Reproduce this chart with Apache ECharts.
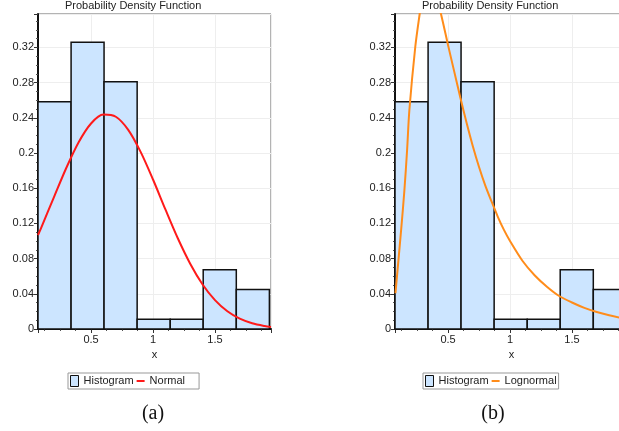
<!DOCTYPE html>
<html>
<head>
<meta charset="utf-8">
<script src="https://cdn.jsdelivr.net/npm/echarts@6/dist/echarts.min.js"></script>
<style>
html,body{margin:0;padding:0;background:#fff;}
#c{width:619px;height:431px;}
</style>
</head>
<body>
<div id="c"></div>
<script>
// ---- data ----
const binEdges = [0.072, 0.339, 0.605, 0.872, 1.139, 1.405, 1.672, 1.939];
const binHeights = [0.2584, 0.3258, 0.2809, 0.0112, 0.0112, 0.0674, 0.0449];

const normalX = [0.072, 0.1, 0.2, 0.3, 0.4, 0.5, 0.6, 0.7, 0.8, 0.9, 1.0, 1.1, 1.2, 1.3, 1.4, 1.5, 1.6, 1.7, 1.8, 1.9, 1.952];
const normalY = [0.1068, 0.1159, 0.1496, 0.1830, 0.2123, 0.2336, 0.2437, 0.2412, 0.2263, 0.2013, 0.1699, 0.1359, 0.1031, 0.0742, 0.0506, 0.0328, 0.0201, 0.0117, 0.0065, 0.0034, 0.0024];

const lognormX = [0.0756, 0.1214, 0.148, 0.1696, 0.188, 0.2355, 0.271, 0.30, 0.33, 0.36, 0.40, 0.443, 0.5, 0.55, 0.6, 0.65, 0.7, 0.75, 0.8, 0.85, 0.9, 0.95, 1.0, 1.1, 1.2, 1.3, 1.4, 1.5, 1.6, 1.7, 1.8, 1.9, 1.952];
const lognormY = [0.0406, 0.1125, 0.158, 0.2034, 0.2489, 0.3205, 0.358, 0.385, 0.397, 0.395, 0.38, 0.358, 0.3226, 0.2925, 0.2626, 0.234, 0.2077, 0.1841, 0.1633, 0.1453, 0.1281, 0.1129, 0.100, 0.0776, 0.0608, 0.0478, 0.0372, 0.0301, 0.0240, 0.0193, 0.0156, 0.0126, 0.0114];

const xMin = 0.072, xMax = 1.952;
const yMin = 0, yMax = 0.358, yStep = 0.04;
const titleText = 'Probability Density Function';
const captions = ['(a)', '(b)'];
const fitNames = ['Normal', 'Lognormal'];
const fitColors = ['#ff1a1a', '#ff8c1a'];

// ---- build ----
const histData = binHeights.map((h, i) => [binEdges[i], binEdges[i + 1], h]);
const normalData = normalX.map((x, i) => [x, normalY[i]]);
const lognormData = lognormX.map((x, i) => [x, lognormY[i]]);

const FONT = 'Liberation Sans, Arial, sans-serif';
const panelLeft = [38, 395];
const gridW = 233, gridH = 315, gridTop = 14;
const lineIcon = 'path://M0,0h8v0.01h-8z M0,4.5h8v2h-8z M0,11h8v0.01h-8z';

function xAxisCfg(gi) {
  return {
    type: 'value', gridIndex: gi, min: xMin, max: xMax, splitNumber: 4,
    name: 'x', nameLocation: 'middle', nameGap: 18,
    nameTextStyle: {fontSize: 11, color: '#222', fontFamily: FONT},
    axisLine: {show: true, onZero: false, lineStyle: {color: '#111', width: 2}},
    axisTick: {show: true, length: 4, lineStyle: {color: '#333'}},
    minorTick: {show: true, splitNumber: 4, length: 2, lineStyle: {color: '#555'}},
    axisLabel: {fontSize: 11, color: '#222', fontFamily: FONT, margin: 5, showMinLabel: false, showMaxLabel: false},
    splitLine: {show: true, lineStyle: {color: '#eeeeee', width: 1}}
  };
}
function yAxisCfg(gi) {
  return {
    type: 'value', gridIndex: gi, min: yMin, max: yMax, interval: yStep,
    axisLine: {show: true, onZero: false, lineStyle: {color: '#111', width: 2}},
    axisTick: {show: true, length: 4, lineStyle: {color: '#333'}},
    minorTick: {show: true, splitNumber: 4, length: 2, lineStyle: {color: '#555'}},
    axisLabel: {fontSize: 11, color: '#222', fontFamily: FONT, margin: 4, showMaxLabel: false,
      formatter: v => (Math.round(v * 100) / 100).toString()},
    splitLine: {show: true, lineStyle: {color: '#eeeeee', width: 1}}
  };
}

function histSeries(gi) {
  return {
    name: 'Histogram', type: 'custom', xAxisIndex: gi, yAxisIndex: gi,
    itemStyle: {color: '#cce5ff'},
    encode: {x: [0, 1], y: 2},
    renderItem: function (params, api) {
      const p0 = api.coord([api.value(0), api.value(2)]);
      const p1 = api.coord([api.value(1), 0]);
      return {
        type: 'rect',
        shape: {x: p0[0], y: p0[1], width: p1[0] - p0[0], height: p1[1] - p0[1]},
        style: {fill: '#cce5ff', stroke: '#111', lineWidth: 1.5}
      };
    },
    data: histData, z: 2
  };
}
function lineSeries(gi, data) {
  return {
    name: fitNames[gi], type: 'line', xAxisIndex: gi, yAxisIndex: gi,
    data: data, showSymbol: false, symbol: 'none', smooth: 0.3, clip: true,
    lineStyle: {color: fitColors[gi], width: 2}, itemStyle: {color: fitColors[gi]}, z: 3
  };
}
function legendCfg(gi, left, pad) {
  return {
    left: left, top: 373, orient: 'horizontal',
    itemWidth: 8, itemHeight: 11, itemGap: 3,
    padding: pad, backgroundColor: '#fff', borderColor: '#999', borderWidth: 1, borderRadius: 0,
    textStyle: {fontSize: 11, color: '#222', fontFamily: FONT},
    selectedMode: false,
    data: [
      {name: 'Histogram', icon: 'rect', itemStyle: {color: '#cce5ff', borderColor: '#111', borderWidth: 1}},
      {name: fitNames[gi], icon: lineIcon, itemStyle: {color: fitColors[gi], borderWidth: 0}}
    ]
  };
}

const chart = echarts.init(document.getElementById('c'), null, {renderer: 'canvas'});
chart.setOption({
  backgroundColor: '#fff',
  animation: false,
  title: [
    {text: titleText, left: 65, top: 0, padding: 0, textStyle: {fontSize: 11, fontWeight: 'normal', color: '#222', fontFamily: FONT}},
    {text: titleText, left: 422, top: 0, padding: 0, textStyle: {fontSize: 11, fontWeight: 'normal', color: '#222', fontFamily: FONT}}
  ],
  grid: panelLeft.map(l => ({left: l, top: gridTop, width: gridW, height: gridH, show: true, borderColor: '#666', borderWidth: 1, backgroundColor: '#fff', containLabel: false, outerBoundsMode: 'none'})),
  xAxis: [xAxisCfg(0), xAxisCfg(1)],
  yAxis: [yAxisCfg(0), yAxisCfg(1)],
  legend: [legendCfg(0, 68, [2, 14, 2, 2]), legendCfg(1, 423, [2, 2, 2, 2])],
  series: [histSeries(0), lineSeries(0, normalData), histSeries(1), lineSeries(1, lognormData)],
  graphic: [
    {type: 'text', x: 153, y: 414, style: {text: captions[0], font: '20px "Liberation Serif", "Times New Roman", serif', fill: '#111', textAlign: 'center', textVerticalAlign: 'middle'}},
    {type: 'text', x: 493, y: 414, style: {text: captions[1], font: '20px "Liberation Serif", "Times New Roman", serif', fill: '#111', textAlign: 'center', textVerticalAlign: 'middle'}}
  ]
});
</script>
</body>
</html>
